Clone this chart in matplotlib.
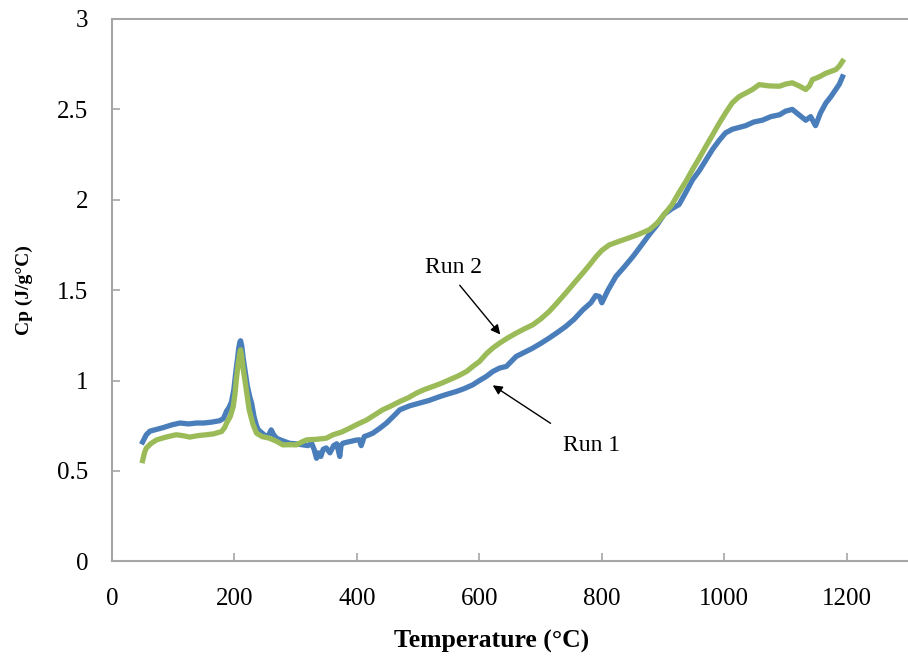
import matplotlib
matplotlib.use("Agg")
import matplotlib.pyplot as plt

plt.rcParams['font.family'] = ['Liberation Serif', 'DejaVu Serif']

# Run 1 (blue) - temperature (C) and Cp (J/g C)
run1_temp = [50, 56, 62, 73, 84, 98, 111, 125, 138, 150,
             163, 176, 182, 187, 191, 195, 199, 202, 205, 207,
             209, 210, 212, 214, 217, 221, 225, 228, 232, 236,
             239, 245, 252, 256, 260, 264, 269, 280, 290, 300,
             312, 320, 326, 330, 334, 337, 341, 345, 350, 356,
             362, 367, 372, 374, 377, 385, 392, 398, 404, 407,
             412, 420, 426, 437, 448, 459, 470, 486, 502, 518,
             535, 548, 562, 575, 589, 600, 611, 622, 633, 644,
             660, 673, 687, 700, 714, 727, 741, 755, 769, 782,
             790, 796, 800, 810, 823, 837, 851, 865, 878, 890,
             902, 914, 926, 937, 948, 959, 970, 981, 992, 1002,
             1013, 1024, 1035, 1048, 1062, 1076, 1090, 1100, 1111, 1122,
             1133, 1141, 1149, 1157, 1166, 1174, 1182, 1188, 1193]
run1_cp = [0.66, 0.70, 0.72, 0.73, 0.74, 0.755, 0.765, 0.76, 0.765, 0.765,
           0.77, 0.778, 0.79, 0.83, 0.85, 0.88, 0.95, 1.04, 1.12, 1.18,
           1.215, 1.22, 1.19, 1.13, 1.06, 0.97, 0.91, 0.875, 0.80, 0.75,
           0.727, 0.71, 0.69, 0.70, 0.727, 0.70, 0.68, 0.665, 0.653, 0.65,
           0.644, 0.64, 0.653, 0.62, 0.57, 0.60, 0.58, 0.62, 0.627, 0.60,
           0.64, 0.65, 0.58, 0.64, 0.653, 0.66, 0.665, 0.67, 0.672, 0.64,
           0.69, 0.70, 0.709, 0.735, 0.764, 0.80, 0.838, 0.86, 0.875, 0.89,
           0.911, 0.925, 0.939, 0.955, 0.976, 1.00, 1.022, 1.05, 1.069, 1.078,
           1.133, 1.155, 1.179, 1.205, 1.235, 1.265, 1.299, 1.34, 1.391, 1.43,
           1.47, 1.465, 1.43, 1.50, 1.576, 1.63, 1.687, 1.75, 1.81, 1.86,
           1.92, 1.95, 1.973, 2.04, 2.11, 2.16, 2.22, 2.28, 2.33, 2.37,
           2.39, 2.40, 2.41, 2.43, 2.44, 2.46, 2.47, 2.49, 2.50, 2.47,
           2.44, 2.46, 2.41, 2.48, 2.536, 2.57, 2.61, 2.64, 2.68]

# Run 2 (green)
run2_temp = [50, 53, 56, 63, 73, 86, 98, 105, 116, 127,
             140, 154, 166, 179, 184, 187, 193, 198, 201, 203,
             206, 209, 210, 212, 214, 217, 221, 224, 230, 236,
             245, 257, 268, 279, 290, 301, 310, 318, 334, 350,
             361, 375, 388, 402, 416, 429, 442, 456, 470, 484,
             497, 510, 524, 538, 551, 565, 579, 590, 600, 612,
             622, 633, 646, 660, 673, 687, 700, 714, 727, 741,
             755, 769, 780, 791, 800, 812, 828, 845, 861, 878,
             890, 902, 914, 926, 937, 948, 959, 970, 981, 992,
             1002, 1013, 1024, 1035, 1046, 1057, 1073, 1090, 1100, 1111,
             1122, 1133, 1139, 1144, 1155, 1166, 1174, 1182, 1188, 1193]
run2_cp = [0.557, 0.60, 0.626, 0.65, 0.672, 0.685, 0.695, 0.70, 0.695, 0.687,
           0.695, 0.70, 0.705, 0.718, 0.74, 0.764, 0.80, 0.856, 0.93, 1.004,
           1.09, 1.16, 1.17, 1.13, 1.07, 1.004, 0.91, 0.838, 0.76, 0.709,
           0.69, 0.681, 0.665, 0.644, 0.645, 0.644, 0.66, 0.672, 0.675, 0.681,
           0.70, 0.715, 0.736, 0.76, 0.782, 0.81, 0.838, 0.86, 0.884, 0.905,
           0.93, 0.95, 0.967, 0.985, 1.004, 1.025, 1.05, 1.08, 1.105, 1.15,
           1.18, 1.207, 1.235, 1.262, 1.285, 1.308, 1.34, 1.382, 1.43, 1.484,
           1.54, 1.595, 1.64, 1.687, 1.72, 1.75, 1.77, 1.79, 1.81, 1.835,
           1.87, 1.92, 1.97, 2.04, 2.10, 2.167, 2.23, 2.296, 2.36, 2.425,
           2.48, 2.536, 2.57, 2.59, 2.61, 2.637, 2.63, 2.628, 2.64, 2.647,
           2.63, 2.61, 2.63, 2.665, 2.68, 2.70, 2.71, 2.72, 2.74, 2.766]

x_ticks = [0, 200, 400, 600, 800, 1000, 1200]
y_ticks = [0, 0.5, 1, 1.5, 2, 2.5, 3]
y_tick_labels = ['0', '0.5', '1', '1.5', '2', '2.5', '3']

fig = plt.figure(figsize=(9.08, 6.67), dpi=100)
ax = fig.add_axes([112 / 908, 1 - 561.3 / 667, 796 / 908, 542.3 / 667])

ax.plot(run1_temp, run1_cp, color='#4a7ebb', linewidth=3.8, solid_joinstyle='round')
ax.plot(run2_temp, run2_cp, color='#9bbb59', linewidth=3.8, solid_joinstyle='round')

ax.set_xlim(0, 1300)
ax.set_ylim(0, 3)
ax.set_xticks(x_ticks)
ax.set_yticks(y_ticks)
ax.set_yticklabels(y_tick_labels)

for side in ['left', 'bottom', 'top']:
    ax.spines[side].set_color('#a6a6a6')
    ax.spines[side].set_linewidth(1.5)
ax.spines['right'].set_visible(False)

ax.tick_params(axis='both', direction='in', length=6, width=1.2, color='#a6a6a6',
               labelsize=18, labelcolor='black')
ax.tick_params(axis='x', pad=19)
ax.tick_params(axis='y', pad=17)

ax.set_xlabel('Temperature (°C)', fontsize=18.5, fontweight='bold')
ax.set_ylabel('Cp (J/g°C)', fontsize=14, fontweight='bold')
ax.xaxis.set_label_coords(0.477, -0.126)
ax.yaxis.set_label_coords(-0.099, 0.5)

# labels and arrows
arrow = dict(arrowstyle='-|>', color='black', lw=1.0, mutation_scale=14)
ax.text(558, 1.628, 'Run 2', fontsize=17, ha='center', va='center')
ax.annotate('', xy=(637, 1.243), xytext=(565, 1.539), arrowprops=arrow)
ax.text(783, 0.64, 'Run 1', fontsize=17, ha='center', va='center')
ax.annotate('', xy=(618, 0.982), xytext=(720, 0.755), arrowprops=arrow)

fig.savefig('out.png', dpi=100)
